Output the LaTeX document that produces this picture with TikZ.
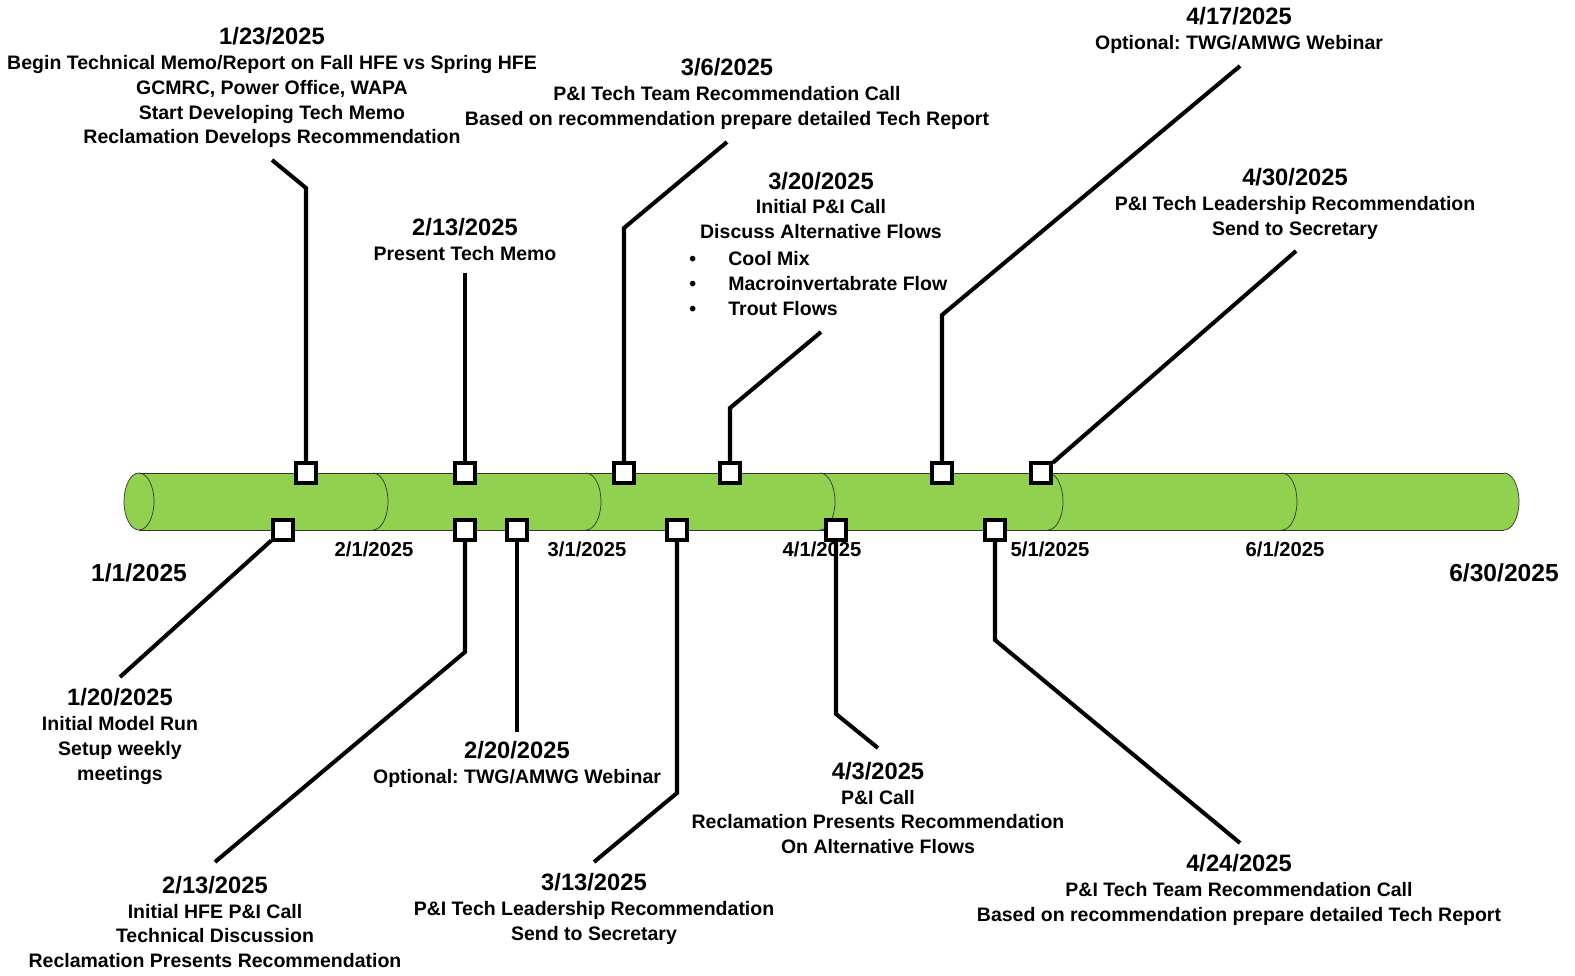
\documentclass[tikz,border=0pt]{standalone}
\usepackage{fontspec}
\setmainfont{Liberation Sans}
\frenchspacing
\definecolor{bargreen}{HTML}{92D050}
\newcommand\dateline[1]{{\fontsize{13.5}{16}\selectfont #1}}
\begin{document}
\begin{tikzpicture}[x=0.02cm, y=-0.02cm,
  mark box/.style = {draw, line width=2.3pt, fill=white, minimum size=0.39cm, inner sep=0pt},
  conn/.style = {line width=2.3pt},
  lbl/.style = {align=center, font=\bfseries\fontsize{11.1}{14.2}\selectfont, inner sep=0pt},
  axis lbl/.style = {font=\bfseries\fontsize{11.5}{13}\selectfont, inner sep=0pt},
  end lbl/.style = {font=\bfseries\fontsize{14}{16}\selectfont, inner sep=0pt}]
\useasboundingbox (0,0) rectangle (1575,976);
% the bar
\fill[bargreen] (139,473) -- (1504,473) arc[start angle=90, end angle=-90, x radius=0.3cm, y radius=0.57cm] -- (139,530) arc[start angle=270, end angle=90, x radius=0.3cm, y radius=0.57cm] -- cycle;
\draw[black!80, thin] (139,473) -- (1504,473) (139,530) -- (1504,530);
\draw[black!80, thin] (139,501.5) ellipse[x radius=0.3cm, y radius=0.57cm];
\foreach \x in {373,586,820,1048,1282,1504}
  \draw[black!80, thin] (\x,473) arc[start angle=90, end angle=-90, x radius=0.3cm, y radius=0.57cm];
% month labels
\node[end lbl] (d1) at (139,573) {1/1/2025};
\node[axis lbl] (d2) at (374,549) {2/1/2025};
\node[axis lbl] (d3) at (587,549) {3/1/2025};
\node[axis lbl] (d4) at (822,549) {4/1/2025};
\node[axis lbl] (d5) at (1050,549) {5/1/2025};
\node[axis lbl] (d6) at (1285,549) {6/1/2025};
\node[end lbl] (d7) at (1504,573) {6/30/2025};
% markers above
\node[mark box] (a1) at (306,473) {};
\node[mark box] (a2) at (465,473) {};
\node[mark box] (a3) at (624,473) {};
\node[mark box] (a4) at (730,473) {};
\node[mark box] (a5) at (942,473) {};
\node[mark box] (a6) at (1041,473) {};
% markers below
\node[mark box] (b1) at (283,530) {};
\node[mark box] (b2) at (465,530) {};
\node[mark box] (b3) at (517,530) {};
\node[mark box] (b4) at (677,530) {};
\node[mark box] (b5) at (836,530) {};
\node[mark box] (b6) at (995,530) {};
% texts above
\node[lbl] (t1) at (272,87.5) {\dateline{1/23/2025}\\Begin Technical Memo/Report on Fall HFE vs Spring HFE\\GCMRC, Power Office, WAPA\\Start Developing Tech Memo\\Reclamation Develops Recommendation};
\node[lbl] (t2) at (465,239.5) {\dateline{2/13/2025}\\Present Tech Memo};
\node[lbl] (t3) at (727,94) {\dateline{3/6/2025}\\P\&I Tech Team Recommendation Call\\Based on recommendation prepare detailed Tech Report};
\node[lbl] (t4) at (821,205.5) {\dateline{3/20/2025}\\Initial P\&I Call\\Discuss Alternative Flows};
\node[lbl, align=left, anchor=west] (t4b) at (689,283.5) {\makebox[0.78cm][l]{\textbullet}Cool Mix\\\makebox[0.78cm][l]{\textbullet}Macroinvertabrate Flow\\\makebox[0.78cm][l]{\textbullet}Trout Flows};
\node[lbl] (t5) at (1239,30) {\dateline{4/17/2025}\\Optional: TWG/AMWG Webinar};
\node[lbl] (t6) at (1295,204) {\dateline{4/30/2025}\\P\&I Tech Leadership Recommendation\\Send to Secretary};
% texts below
\node[lbl] (u1) at (120,736.5) {\dateline{1/20/2025}\\Initial Model Run\\Setup weekly\\meetings};
\node[lbl] (u2) at (215,922) {\dateline{2/13/2025}\\Initial HFE P\&I Call\\Technical Discussion\\Reclamation Presents Recommendation};
\node[lbl] (u3) at (517,764) {\dateline{2/20/2025}\\Optional: TWG/AMWG Webinar};
\node[lbl] (u4) at (594,909) {\dateline{3/13/2025}\\P\&I Tech Leadership Recommendation\\Send to Secretary};
\node[lbl] (u5) at (878,808) {\dateline{4/3/2025}\\P\&I Call\\Reclamation Presents Recommendation\\On Alternative Flows};
\node[lbl] (u6) at (1239,890) {\dateline{4/24/2025}\\P\&I Tech Team Recommendation Call\\Based on recommendation prepare detailed Tech Report};
% bends and ends
\coordinate (ka1) at (306,188); \coordinate (ea1) at (272,160);
\coordinate (ea2) at (465,273);
\coordinate (ka3) at (624,228); \coordinate (ea3) at (727,142);
\coordinate (ka4) at (730,408); \coordinate (ea4) at (821,332);
\coordinate (ka5) at (942,315); \coordinate (ea5) at (1240,66);
\coordinate (ea6) at (1296,251);
\coordinate (eb1) at (120,677);
\coordinate (kb2) at (465,652); \coordinate (eb2) at (215,862);
\coordinate (eb3) at (517,732);
\coordinate (kb4) at (677,793); \coordinate (eb4) at (594,862);
\coordinate (kb5) at (836,714); \coordinate (eb5) at (878,748);
\coordinate (kb6) at (995,640); \coordinate (eb6) at (1240,843);
\draw[conn] (a1) -- (ka1) -- (ea1);
\draw[conn] (a2) -- (ea2);
\draw[conn] (a3) -- (ka3) -- (ea3);
\draw[conn] (a4) -- (ka4) -- (ea4);
\draw[conn] (a5) -- (ka5) -- (ea5);
\draw[conn] (a6) -- (ea6);
\draw[conn] (b1) -- (eb1);
\draw[conn] (b2) -- (kb2) -- (eb2);
\draw[conn] (b3) -- (eb3);
\draw[conn] (b4) -- (kb4) -- (eb4);
\draw[conn] (b5) -- (kb5) -- (eb5);
\draw[conn] (b6) -- (kb6) -- (eb6);
\end{tikzpicture}
\end{document}
